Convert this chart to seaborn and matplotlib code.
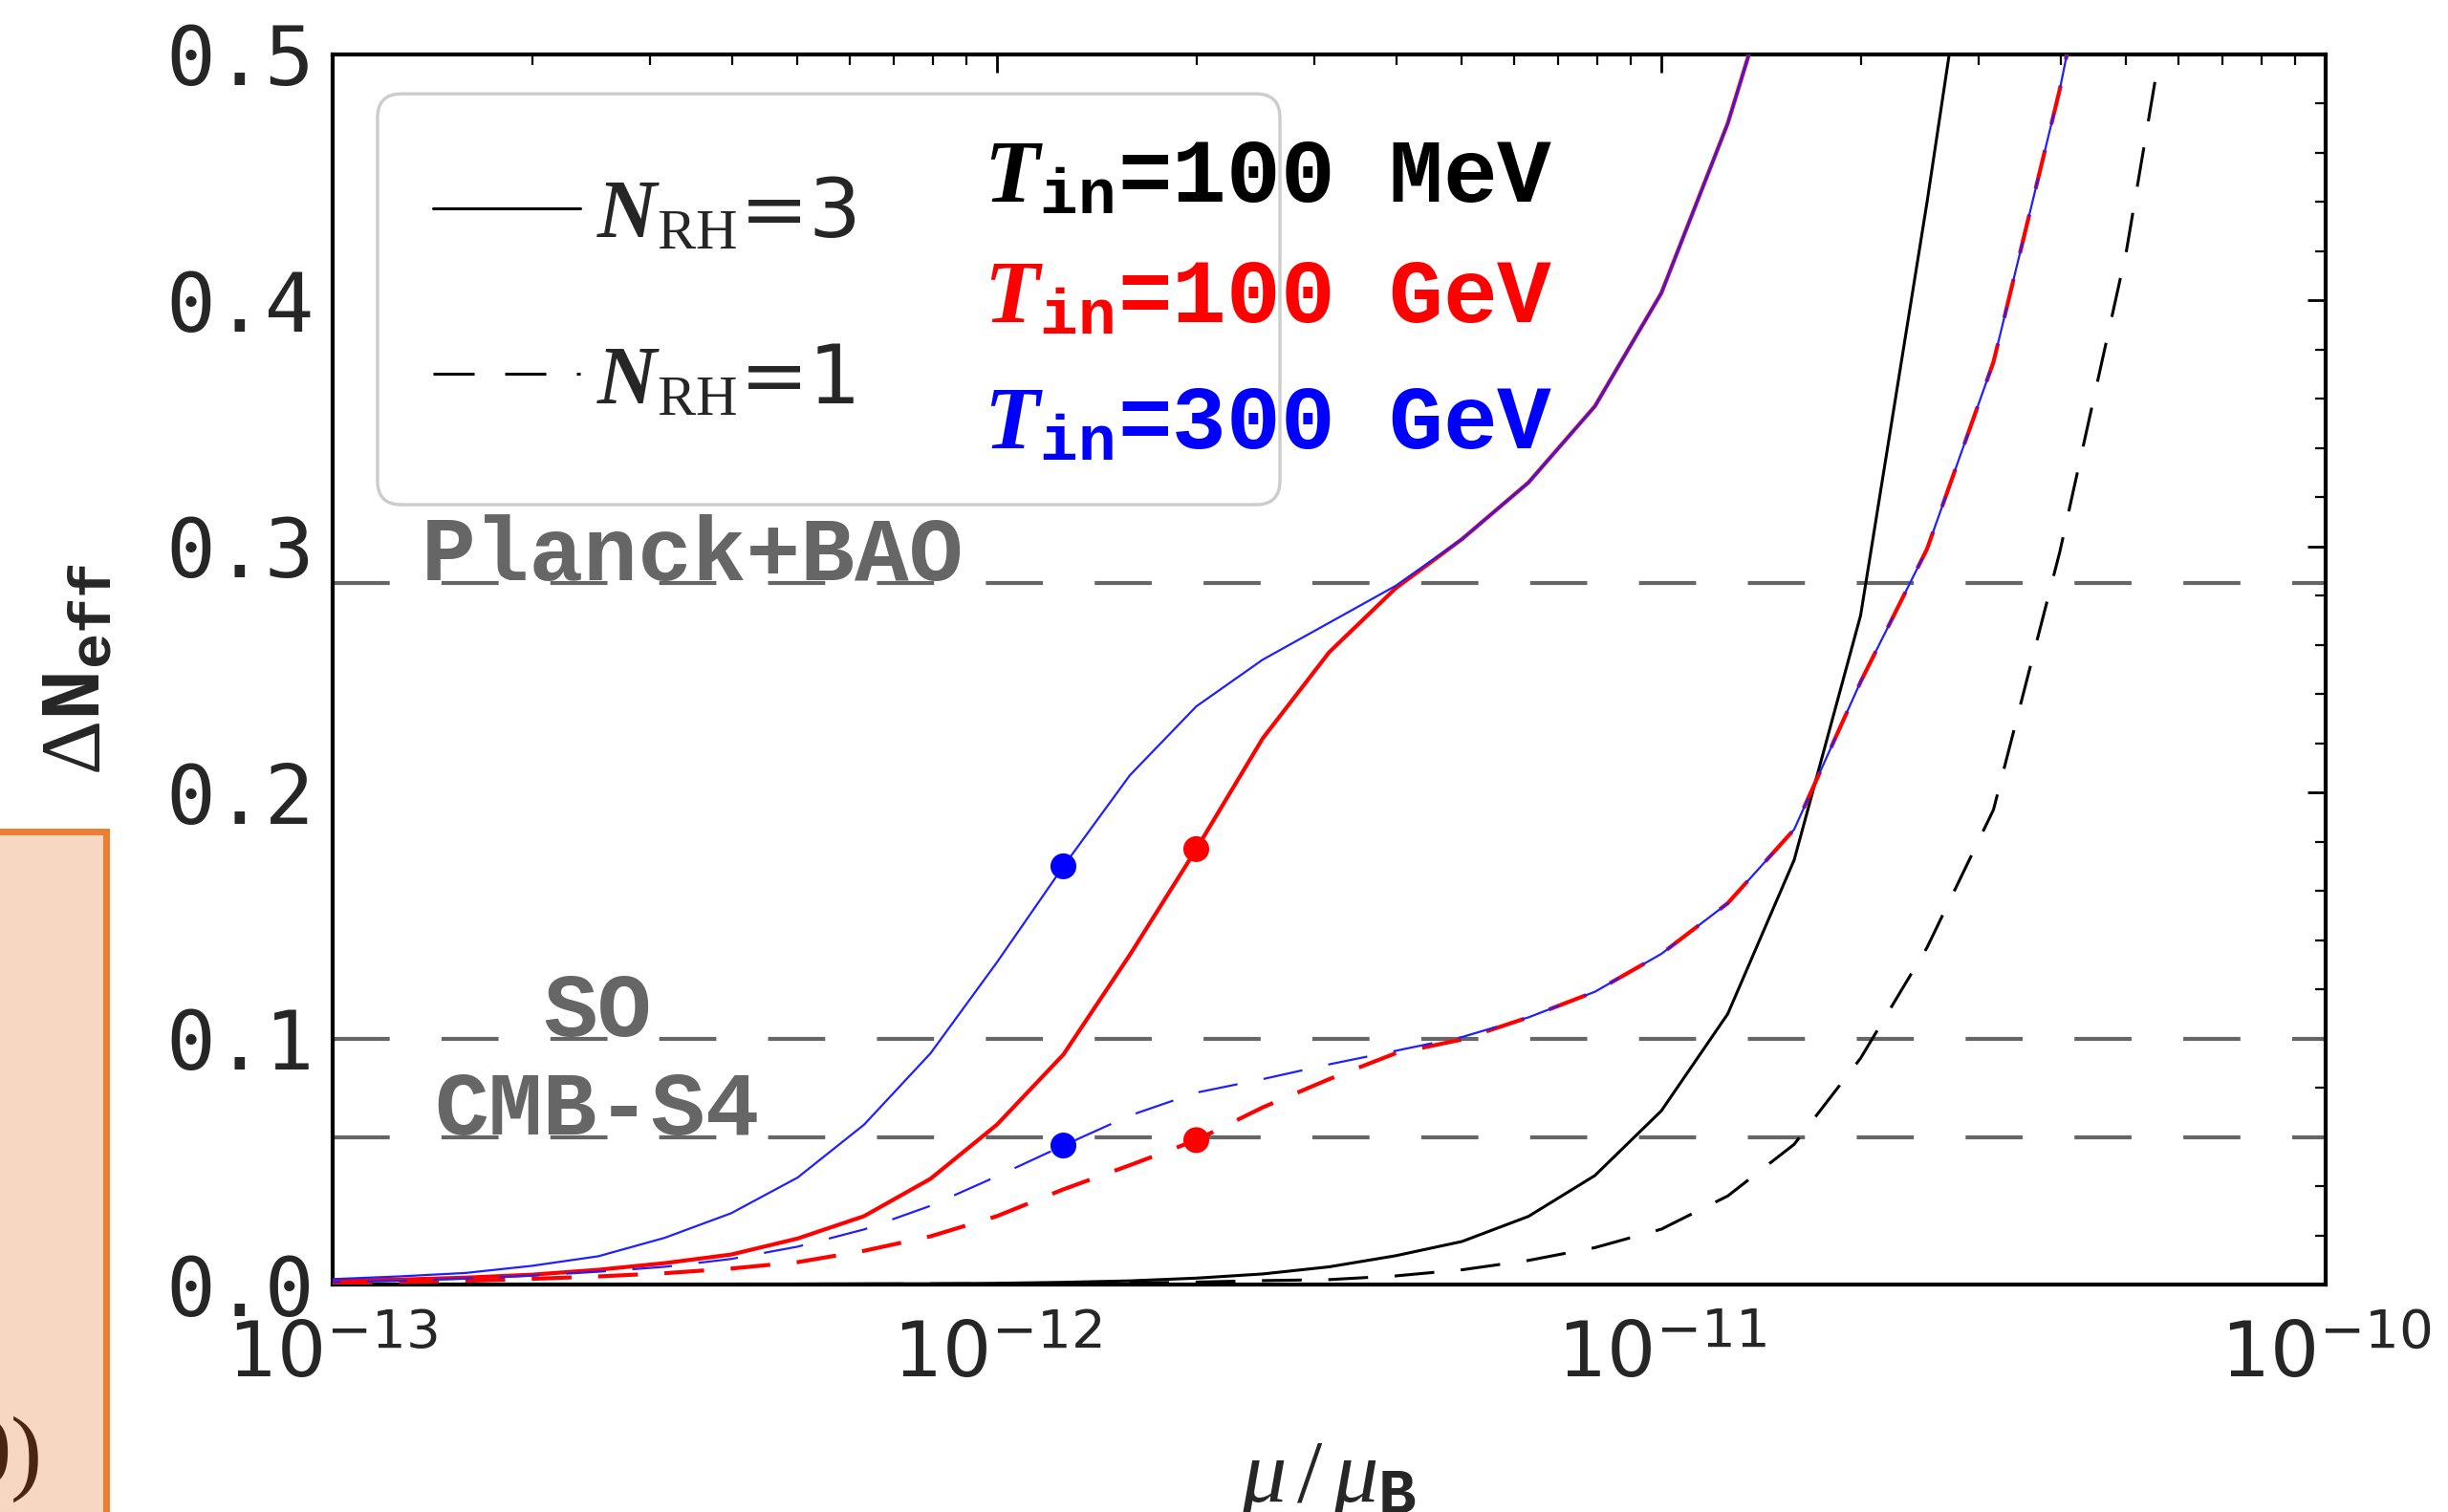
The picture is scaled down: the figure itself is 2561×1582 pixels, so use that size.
import matplotlib
matplotlib.use("Agg")
import matplotlib.pyplot as plt
import seaborn as sns
import numpy as np
from matplotlib.lines import Line2D
from matplotlib.patches import FancyBboxPatch, Rectangle
from matplotlib.ticker import LogLocator, MultipleLocator, LogFormatterMathtext, NullFormatter

# ── Data (log10 of mu/mu_B on a 0.1-decade grid) ─────────────────────────────
log_mu = [-13.0, -12.9, -12.8, -12.7, -12.6, -12.5, -12.4, -12.3, -12.2, -12.1,
          -12.0, -11.9, -11.8, -11.7, -11.6, -11.5, -11.4, -11.3, -11.2, -11.1,
          -11.0, -10.9, -10.8, -10.7, -10.6, -10.5, -10.4, -10.3, -10.2]

# T_in = 300 GeV, N_RH = 3
blue_n3 = [0.0022, 0.0033, 0.0047, 0.0076, 0.0115, 0.019, 0.029, 0.0435, 0.065, 0.094,
           0.131, 0.170, 0.207, 0.235, 0.254, 0.269, 0.284, 0.303, 0.326, 0.357,
           0.403, 0.472, 0.56]
# T_in = 100 GeV, N_RH = 3
red_n3 = [0.0015, 0.002, 0.0028, 0.004, 0.006, 0.0087, 0.0122, 0.0187, 0.0278, 0.043,
          0.065, 0.0935, 0.134, 0.177, 0.222, 0.257, 0.283, 0.303, 0.326, 0.357,
          0.403, 0.472, 0.56]
# T_in = 300 GeV, N_RH = 1
blue_n1 = [0.001, 0.0015, 0.0024, 0.0036, 0.0052, 0.0072, 0.0104, 0.0154, 0.0224, 0.032,
           0.044, 0.0565, 0.0687, 0.078, 0.0835, 0.0895, 0.095, 0.1006, 0.1086, 0.119,
           0.1344, 0.155, 0.185, 0.245, 0.299, 0.375, 0.486, 0.62]
# T_in = 100 GeV, N_RH = 1
red_n1 = [0.0006, 0.001, 0.0015, 0.0023, 0.0033, 0.0046, 0.0065, 0.0091, 0.0137, 0.0196,
          0.0278, 0.0387, 0.0485, 0.0587, 0.072, 0.0835, 0.094, 0.0996, 0.1086, 0.119,
          0.1344, 0.155, 0.185, 0.245, 0.299, 0.375, 0.486, 0.62]
# T_in = 100 MeV, N_RH = 3
black_n3 = [0.0001, 0.0001, 0.0001, 0.0001, 0.0001, 0.0001, 0.0002, 0.0002, 0.0003, 0.0003,
            0.0005, 0.0009, 0.0015, 0.0026, 0.0043, 0.0072, 0.0117, 0.0175, 0.0277, 0.0443,
            0.0706, 0.110, 0.1726, 0.272, 0.44, 0.62]
# T_in = 100 MeV, N_RH = 1
black_n1 = [0.0, 0.0, 0.0001, 0.0001, 0.0001, 0.0001, 0.0001, 0.0002, 0.0002, 0.0003,
            0.0003, 0.0004, 0.0006, 0.001, 0.0016, 0.002, 0.0035, 0.006, 0.0098, 0.015,
            0.0225, 0.036, 0.057, 0.092, 0.137, 0.193, 0.298, 0.42, 0.58]

# benchmark points
dot_log_mu = [-11.9, -11.9, -11.7, -11.7]
dot_dneff = [0.170, 0.0565, 0.177, 0.0587]
dot_color = ["#0000FF", "#0000FF", "#FF0000", "#FF0000"]

# experimental sensitivities
bounds = {"Planck+BAO": 0.285, "SO": 0.1, "CMB-S4": 0.06}

# ── Style ────────────────────────────────────────────────────────────────────
sns.set_style("white")
plt.rcParams["font.family"] = ["DejaVu Sans"]
plt.rcParams["mathtext.fontset"] = "custom"
plt.rcParams["mathtext.rm"] = "Liberation Serif"
plt.rcParams["mathtext.it"] = "Liberation Serif:italic"
plt.rcParams["mathtext.bf"] = "Liberation Serif:bold"
plt.rcParams["mathtext.bfit"] = "Liberation Serif:italic:bold"
plt.rcParams["mathtext.tt"] = "Liberation Mono:bold"
plt.rcParams["lines.scale_dashes"] = False

W, H = 2561, 1582
fig = plt.figure(figsize=(W / 200, H / 200), dpi=200)
ax = fig.add_axes([348 / W, 1 - 1344 / H, 2085 / W, 1287 / H])

DASH = (0, (15, 10))


def curve(ys, color, lw, ls, z):
    xs = [10 ** v for v in log_mu[:len(ys)]]
    sns.lineplot(x=xs, y=ys, ax=ax, color=color, lw=lw, linestyle=ls,
                 estimator=None, sort=False, zorder=z)


# ── Curves ───────────────────────────────────────────────────────────────────
curve(black_n3, "black", 1.1, "-", 3)
curve(black_n1, "black", 1.1, DASH, 3)
curve(red_n3, "#FF0000", 1.5, "-", 4)
curve(red_n1, "#FF0000", 1.5, DASH, 4)
curve(blue_n3, "#2020FF", 0.8, "-", 5)
curve(blue_n1, "#2020FF", 0.8, (12, (15, 10)), 5)

sns.scatterplot(x=[10 ** v for v in dot_log_mu], y=dot_dneff, hue=dot_color,
                palette={c: c for c in set(dot_color)}, s=95, edgecolor="none",
                legend=False, ax=ax, zorder=6)

for name, val in bounds.items():
    ax.axhline(val, color="#666666", lw=1.5, linestyle=(0, (21.5, 19.5)), zorder=2)

txt_kw = dict(color="#666666", fontsize=34, family="Liberation Mono",
              fontweight="bold", va="baseline", zorder=2)
ax.text(10 ** -12.866, 0.2865, "Planck+BAO", ha="left", **txt_kw)
ax.text(10 ** -12.601, 0.101, "SO", ha="center", **txt_kw)
ax.text(10 ** -12.847, 0.061, "CMB-S4", ha="left", **txt_kw)

# ── Axes ─────────────────────────────────────────────────────────────────────
ax.set_xscale("log")
ax.set_xlim(1e-13, 1e-10)
ax.set_ylim(0, 0.5)
ax.xaxis.set_major_locator(LogLocator(base=10, numticks=10))
ax.xaxis.set_minor_locator(LogLocator(base=10, subs=np.arange(2, 10), numticks=30))
ax.xaxis.set_major_formatter(LogFormatterMathtext())
ax.xaxis.set_minor_formatter(NullFormatter())
ax.yaxis.set_major_locator(MultipleLocator(0.1))
ax.yaxis.set_minor_locator(MultipleLocator(0.02))
ax.set_yticks([0, 0.1, 0.2, 0.3, 0.4, 0.5])
ax.set_yticklabels(["0.0", "0.1", "0.2", "0.3", "0.4", "0.5"],
                   family="DejaVu Sans Mono", fontsize=31)
ax.tick_params(axis="x", labelsize=29, pad=13)
ax.tick_params(axis="y", pad=7)
ax.tick_params(which="both", direction="in", top=True, right=True, color="black")
ax.tick_params(which="major", length=7, width=1.0)
ax.tick_params(which="minor", length=4, width=0.8)
for sp in ax.spines.values():
    sp.set_linewidth(1.5)
    sp.set_color("black")

ax.set_xlabel(r"$\mu\,/\,\mu_{\mathtt{B}}$", fontsize=34)
ax.xaxis.set_label_coords(0.5, -0.122)
ax.set_ylabel(r"$\Delta\mathtt{N}_{\mathtt{eff}}$", fontsize=32)
ax.yaxis.set_label_coords(-0.108, 0.5)

# ── Legend box ───────────────────────────────────────────────────────────────
box = FancyBboxPatch((0.0225, 0.634), 0.4528, 0.334,
                     boxstyle="round,pad=0,rounding_size=0.012", mutation_aspect=1.62,
                     transform=ax.transAxes, fc="white", ec="#cccccc", lw=1.2, zorder=7)
ax.add_patch(box)

handles = [Line2D([], [], color="black", lw=1.1),
           Line2D([], [], color="black", lw=1.1, linestyle=(0, (15.5, 11.5)))]
labels = [r"$\mathbfit{N}_{\mathrm{RH}}$=3", r"$\mathbfit{N}_{\mathrm{RH}}$=1"]
leg = ax.legend(handles, labels, loc="upper left", bbox_to_anchor=(0.0505, 0.902),
                frameon=False, fontsize=31, handlelength=1.78, handletextpad=0.2,
                labelspacing=1.05, borderpad=0, borderaxespad=0)
leg.set_zorder(8)

tin_labels = [r"$\mathbfit{T}_{\mathtt{in}}$=100 MeV", r"$\mathbfit{T}_{\mathtt{in}}$=100 GeV",
              r"$\mathbfit{T}_{\mathtt{in}}$=300 GeV"]
tin_colors = ["black", "#FF0000", "#0000FF"]
tin_y = [0.880, 0.782, 0.680]
for lab, col, yy in zip(tin_labels, tin_colors, tin_y):
    ax.text(0.3266, yy, lab, transform=ax.transAxes, color=col, fontsize=34,
            family="Liberation Mono", fontweight="bold", va="baseline", zorder=9)

# ── Neighbouring panel fragment on the left ──────────────────────────────────
fig.patches.append(Rectangle((-0.01, -0.01), 0.0533, 1 - 870 / H + 0.01,
                             transform=fig.transFigure, fc="#F7D7C1", ec="#ED7D31",
                             lw=2.5, zorder=0))
fig.text(44 / W, 0.035, "0)", ha="right", va="center", fontsize=36,
         family="Liberation Serif", color="#4A2511")

fig.savefig("out.png", dpi=200)
